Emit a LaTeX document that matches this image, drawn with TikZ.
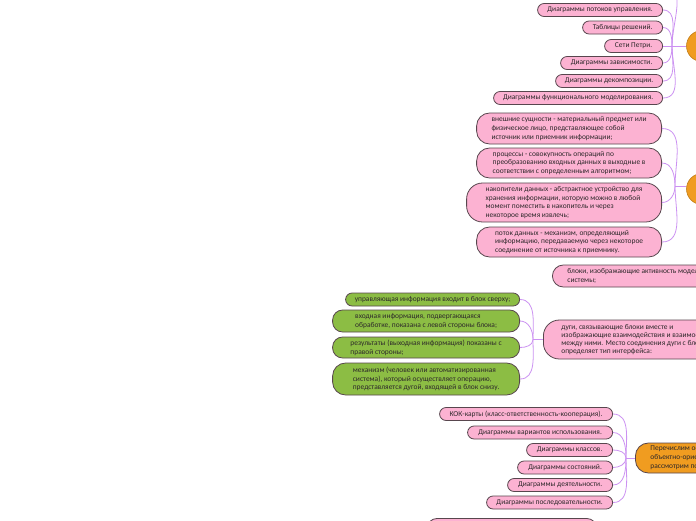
\documentclass[tikz,border=0pt]{standalone}
\usepackage{fontspec}
\setmainfont{Carlito}
\definecolor{pinkf}{RGB}{252,178,210}
\definecolor{greenf}{RGB}{140,189,68}
\definecolor{orangef}{RGB}{240,156,32}
\definecolor{bord}{RGB}{88,70,78}
\definecolor{lilac}{RGB}{204,146,242}
\definecolor{txt}{RGB}{45,40,42}
\tikzset{
  base/.style={draw=bord, line width=0.8pt, inner sep=0pt, text=txt,
    font=\fontsize{7.45}{8.8}\selectfont},
  pill/.style={base, rounded corners=6.5pt, minimum height=13pt, align=center},
  bigpill/.style={base, rounded corners=13pt, align=left},
  pinkpill/.style={pill, fill=pinkf},
  pinkbig/.style={bigpill, fill=pinkf},
  greenpill/.style={pill, fill=greenf},
  greenbig/.style={bigpill, fill=greenf, rounded corners=10pt},
  orangebig/.style={bigpill, fill=orangef},
  hubcircle/.style={circle, fill=orangef, draw=orangef!80!black, line width=0.6pt, minimum size=31pt, inner sep=0pt},
  conn/.style={draw=lilac, line width=0.8pt}
}
\begin{document}
\begin{tikzpicture}[x=1pt,y=-1pt]
\useasboundingbox (0,0) rectangle (696,520);
\clip (0,0) rectangle (696,520);
\fill[white] (0,0) rectangle (696,520);

% ---------- top group ----------
\node[hubcircle] (c1) at (702,46) {};
\coordinate (h1) at (672,46);
\coordinate (offtop) at (664,-14);
\node[pinkpill, anchor=east, minimum width=125pt] (t1) at (663,10) {Диаграммы потоков управления.};
\node[pinkpill, anchor=east, minimum width=80pt]  (t2) at (663,27.5) {Таблицы решений.};
\node[pinkpill, anchor=east, minimum width=58pt]  (t3) at (663,46) {Сети Петри.};
\node[pinkpill, anchor=east, minimum width=102pt] (t4) at (663,63) {Диаграммы зависимости.};
\node[pinkpill, anchor=east, minimum width=107pt] (t5) at (663,81) {Диаграммы декомпозиции.};
\node[pinkpill, anchor=east, minimum width=169pt] (t6) at (663,98) {Диаграммы функционального моделирования.};
\draw[conn] (h1) -- (c1.west);
\draw[conn] (h1) to[out=90,in=0] (offtop);
\draw[conn] (t1.east) to[out=0,in=90] (h1);
\draw[conn] (t2.east) to[out=0,in=90] (h1);
\draw[conn] (t3.east) -- (h1);
\draw[conn] (t4.east) to[out=0,in=-90] (h1);
\draw[conn] (t5.east) to[out=0,in=-90] (h1);
\draw[conn] (t6.east) to[out=0,in=-90] (h1);

% ---------- second group ----------
\node[hubcircle] (c2) at (702,189) {};
\coordinate (h2) at (675,186);
\node[pinkbig, anchor=east, minimum width=185pt, minimum height=31pt] (s1) at (662,128.5)
  {внешние сущности - материальный предмет или\\физическое лицо, представляющее собой\\источник или приемник информации;};
\node[pinkbig, anchor=east, minimum width=185pt, minimum height=30pt] (s2) at (662,163)
  {процессы - совокупность операций по\\преобразованию входных данных в выходные в\\соответствии с определенным алгоритмом;};
\node[pinkbig, anchor=east, minimum width=195pt, minimum height=39pt, rounded corners=16pt] (s3) at (662,202.5)
  {накопители данных - абстрактное устройство для\\хранения информации, которую можно в любой\\момент поместить в накопитель и через\\некоторое время извлечь;};
\node[pinkbig, anchor=east, minimum width=185pt, minimum height=30pt] (s4) at (662,242)
  {поток данных - механизм, определяющий\\информацию, передаваемую через некоторое\\соединение от источника к приемнику.};
\draw[conn] (h2) -- (h2 -| c2.west);
\draw[conn] (s1.east) to[out=0,in=90] (h2);
\draw[conn] (s2.east) to[out=0,in=90] (h2);
\draw[conn] (s3.east) to[out=0,in=-90] (h2);
\draw[conn] (s4.east) to[out=0,in=-90] (h2);

% ---------- IDEF0 group ----------
\node[pinkbig, anchor=west, minimum height=22pt, rounded corners=11pt, inner xsep=15pt] (b1) at (552,276)
  {блоки, изображающие активность моделируемой\\системы;};
\node[pinkbig, anchor=west, minimum height=39pt, rounded corners=16pt, inner xsep=18pt,
  font=\fontsize{7.45}{8.2}\selectfont] (d1) at (543,339.5)
  {дуги, связывающие блоки вместе и\\изображающие взаимодействия и взаимосвязи\\между ними. Место соединения дуги с блоком\\определяет тип интерфейса:};
\coordinate (h3) at (533,339.5);
\node[greenpill, anchor=east, minimum width=174pt] (g1) at (520,299.5) {управляющая информация входит в блок сверху;};
\node[greenbig, anchor=east, minimum width=187pt, minimum height=22pt] (g2) at (520,321)
  {входная информация, подвергающаяся\\обработке, показана с левой стороны блока;};
\node[greenbig, anchor=east, minimum width=187pt, minimum height=21pt] (g3) at (520,347.5)
  {результаты (выходная информация) показаны с\\правой стороны;};
\node[greenbig, anchor=east, minimum width=187pt, minimum height=32pt, rounded corners=13pt] (g4) at (520,379)
  {механизм (человек или автоматизированная\\система), который осуществляет операцию,\\представляется дугой, входящей в блок снизу.};
\draw[conn] (h3) -- (d1.west);
\draw[conn] (g1.east) to[out=0,in=90] (h3);
\draw[conn] (g2.east) to[out=0,in=90] (h3);
\draw[conn] (g3.east) to[out=0,in=-90] (h3);
\draw[conn] (g4.east) to[out=0,in=-90] (h3);

% ---------- bottom group ----------
\node[orangebig, anchor=west, minimum height=30pt, inner xsep=15pt] (o3) at (635,458)
  {Перечислим основные диаграммы\\объектно-ориентированного подхода,\\рассмотрим подробнее:};
\coordinate (h4) at (626,458);
\node[pinkpill, anchor=east, minimum width=173pt] (k1) at (613,414) {КОК-карты (класс-ответственность-кооперация).};
\node[pinkpill, anchor=east, minimum width=145pt] (k2) at (613,432.5) {Диаграммы вариантов использования.};
\node[pinkpill, anchor=east, minimum width=86pt]  (k3) at (613,450) {Диаграммы классов.};
\node[pinkpill, anchor=east, minimum width=95pt]  (k4) at (613,467.5) {Диаграммы состояний.};
\node[pinkpill, anchor=east, minimum width=105pt] (k5) at (613,485) {Диаграммы деятельности.};
\node[pinkpill, anchor=east, minimum width=126pt] (k6) at (613,502.5) {Диаграммы последовательности.};
\draw[conn] (h4) -- (o3.west);
\draw[conn] (k1.east) to[out=0,in=90] (h4);
\draw[conn] (k2.east) to[out=0,in=90] (h4);
\draw[conn] (k3.east) to[out=0,in=90] (h4);
\draw[conn] (k4.east) to[out=0,in=-90] (h4);
\draw[conn] (k5.east) to[out=0,in=-90] (h4);
\draw[conn] (k6.east) to[out=0,in=-90] (h4);

% ---------- partly visible pill at the bottom ----------
\node[pinkpill, anchor=north west, minimum width=171pt, minimum height=22pt, rounded corners=11pt] (p7) at (426,518) {};
\end{tikzpicture}
\end{document}
